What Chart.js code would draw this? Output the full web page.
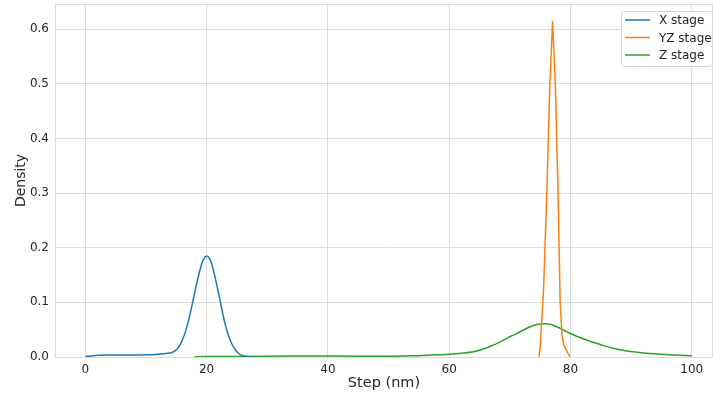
<!DOCTYPE html>
<html>
<head>
<meta charset="utf-8">
<script src="https://cdn.jsdelivr.net/npm/chart.js@4/dist/chart.umd.min.js"></script>
<style>
  html, body { margin: 0; padding: 0; background: #ffffff; }
  #wrap { width: 713px; height: 395px; }
</style>
</head>
<body>
<div id="wrap"><canvas id="chart" width="713" height="395"></canvas></div>
<script>
// step positions (nm) and density readings for each stage
const xStageSteps = [0, 1, 2, 4, 6, 8, 10, 12, 13, 14, 14.5, 15, 15.5, 16, 16.5, 17, 17.5, 18, 18.5, 19, 19.5, 20, 20.5, 21, 21.5, 22, 22.5, 23, 23.5, 24, 24.5, 25, 25.5, 26, 27, 27.5]
const xStageDensity = [0.001, 0.002, 0.003, 0.0035, 0.0035, 0.0035, 0.004, 0.005, 0.006, 0.0075, 0.0095, 0.013, 0.02, 0.031, 0.046, 0.066, 0.09, 0.116, 0.141, 0.163, 0.179, 0.185, 0.18, 0.164, 0.141, 0.115, 0.088, 0.063, 0.043, 0.028, 0.017, 0.0095, 0.005, 0.0025, 0.0005, 0]

const yzStageSteps = [74.8, 75.0, 75.55, 76.1, 76.6, 77.05, 77.5, 77.95, 78.3, 78.6, 78.9, 79.9]
const yzStageDensity = [0, 0.018, 0.12, 0.3, 0.5, 0.615, 0.5, 0.3, 0.1, 0.04, 0.022, 0]

const zStageSteps = [18, 20, 25, 30, 35, 37, 40, 45, 50, 53, 55, 57, 60, 62, 64, 65, 66, 67, 68, 69, 70, 71, 72, 73, 74, 75, 76, 77, 78, 79, 80, 81, 82, 83, 84, 85, 86, 87, 88, 89, 90, 92, 95, 97, 100]
const zStageDensity = [0.0003, 0.0008, 0.001, 0.0013, 0.0018, 0.002, 0.0018, 0.0015, 0.0015, 0.002, 0.0025, 0.0035, 0.005, 0.0068, 0.0095, 0.0125, 0.016, 0.0205, 0.0255, 0.031, 0.037, 0.042, 0.048, 0.0535, 0.058, 0.0605, 0.061, 0.0585, 0.054, 0.0485, 0.043, 0.038, 0.0338, 0.0298, 0.026, 0.0225, 0.019, 0.0162, 0.0137, 0.0116, 0.0099, 0.0074, 0.005, 0.0037, 0.0025]

const seriesNames = ['X stage', 'YZ stage', 'Z stage']
const seriesColors = ['#1f77b4', '#ff7f0e', '#2ca02c']
const xTickValues = [0, 20, 40, 60, 80, 100]
const yTickValues = [0, 0.1, 0.2, 0.3, 0.4, 0.5, 0.6]

const gridColor = '#dcdcdc'
const textColor = '#262626'

function toPoints(xs, ys) {
    return xs.map((x, i) => ({ x: x, y: ys[i] }))
}

Chart.defaults.font.family = 'DejaVu Sans'
Chart.defaults.color = textColor

// legend drawn inside the plot, upper right, like matplotlib
const boxLegend = {
    id: 'boxLegend',
    afterDraw(chart) {
        const ctx = chart.ctx
        const area = chart.chartArea
        ctx.save()
        // frame round the plot
        ctx.strokeStyle = gridColor
        ctx.lineWidth = 1
        ctx.strokeRect(area.left + 0.5, area.top + 0.5, area.right - area.left - 1, area.bottom - area.top)

        const bx = 621, by = 11, bw = 91, bh = 55
        ctx.beginPath()
        ctx.roundRect(bx + 0.5, by + 0.5, bw, bh, 3)
        ctx.fillStyle = 'rgba(255,255,255,0.85)'
        ctx.fill()
        ctx.strokeStyle = '#d6d6d6'
        ctx.stroke()

        ctx.font = '12px "DejaVu Sans"'
        ctx.textBaseline = 'middle'
        ctx.textAlign = 'left'
        chart.data.datasets.forEach((ds, i) => {
            const y = 20 + i * 17.5
            ctx.strokeStyle = ds.borderColor
            ctx.lineWidth = 1.5
            ctx.beginPath()
            ctx.moveTo(625, y)
            ctx.lineTo(650, y)
            ctx.stroke()
            ctx.fillStyle = textColor
            ctx.fillText(ds.label, 659, y + 1)
        })
        ctx.restore()
    }
}

new Chart(document.getElementById('chart'), {
    type: 'line',
    data: {
        datasets: [
            {
                label: seriesNames[0],
                data: toPoints(xStageSteps, xStageDensity),
                borderColor: seriesColors[0],
                cubicInterpolationMode: 'monotone',
            },
            {
                label: seriesNames[1],
                data: toPoints(yzStageSteps, yzStageDensity),
                borderColor: seriesColors[1],
                tension: 0,
            },
            {
                label: seriesNames[2],
                data: toPoints(zStageSteps, zStageDensity),
                borderColor: seriesColors[2],
                cubicInterpolationMode: 'monotone',
            },
        ],
    },
    options: {
        responsive: false,
        animation: false,
        clip: false,
        elements: {
            point: { radius: 0 },
            line: { borderWidth: 1.5, fill: false },
        },
        layout: { padding: { top: 4, right: 0, left: 0, bottom: 0 } },
        plugins: {
            legend: { display: false },
            tooltip: { enabled: false },
        },
        scales: {
            x: {
                type: 'linear',
                min: -5,
                max: 103.5,
                grid: { color: gridColor, drawTicks: false },
                border: { color: gridColor },
                ticks: {
                    font: { size: 12 },
                    padding: 6,
                    color: textColor,
                },
                title: {
                    display: true,
                    text: 'Step (nm)',
                    font: { size: 14.5 },
                    color: textColor,
                    padding: { top: 0, bottom: 3 },
                },
                afterBuildTicks(scale) {
                    scale.ticks = xTickValues.map(v => ({ value: v }))
                },
                afterFit(scale) {
                    scale.height = 38
                    scale.paddingLeft = 0
                    scale.paddingRight = 0
                },
            },
            y: {
                min: 0,
                max: 0.646,
                grid: { color: gridColor, drawTicks: false },
                border: { color: gridColor },
                ticks: {
                    font: { size: 12 },
                    padding: 6,
                    color: textColor,
                    callback: v => v.toFixed(1),
                },
                title: {
                    display: true,
                    text: 'Density',
                    font: { size: 14 },
                    color: textColor,
                    padding: { top: 12.6, bottom: 0 },
                },
                afterBuildTicks(scale) {
                    scale.ticks = yTickValues.map(v => ({ value: v }))
                },
                afterFit(scale) {
                    scale.width = 55
                    scale.paddingTop = 0
                    scale.paddingBottom = 0
                },
            },
        },
    },
    plugins: [boxLegend],
})
</script>
</body>
</html>
